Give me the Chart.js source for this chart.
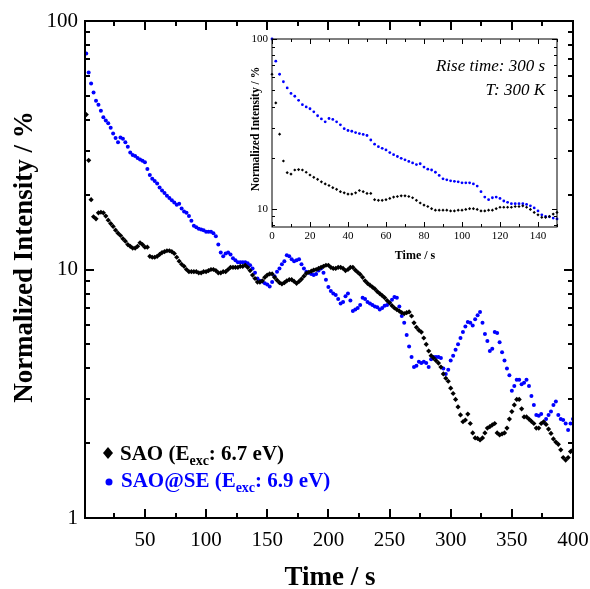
<!DOCTYPE html>
<html>
<head>
<meta charset="utf-8">
<script src="https://cdn.jsdelivr.net/npm/chart.js@4.4.1/dist/chart.umd.min.js"></script>
<style>
 html, body { margin: 0; padding: 0; background: #fff; }
 #wrap { position: relative; width: 590px; height: 589px; }
 #mainChart { position: absolute; left: 0; top: 0; }
 #insetChart { position: absolute; left: 230px; top: 25px; }
</style>
</head>
<body>
<div id="wrap">
 <canvas id="mainChart" width="590" height="589"></canvas>
 <canvas id="insetChart" width="340" height="245"></canvas>
</div>
<script>
// readings every 2 s, starting at t = 0
var timeStep = 2;

// SAO (E_exc: 6.7 eV), normalized intensity in %
var saoValues = [
 62, 42, 27.5, 19.1, 16.3, 16.0, 16.9, 17.0, 16.9, 16.4,
 15.8, 15.3, 14.9, 14.4, 14.0, 13.7, 13.3, 13.0, 12.6, 12.4,
 12.2, 12.2, 12.4, 12.8, 12.6, 12.3, 12.3, 11.3, 11.2, 11.2,
 11.3, 11.5, 11.7, 11.8, 11.9, 11.9, 11.8, 11.6, 11.2, 10.8,
 10.5, 10.3, 10.0, 9.8, 9.8, 9.8, 9.8, 9.7, 9.7, 9.8,
 9.8, 9.9, 10.0, 10.0, 9.9, 9.7, 9.7, 9.8, 9.8, 10.0,
 10.2, 10.2, 10.2, 10.2, 10.3, 10.3, 10.4, 10.2, 9.9, 9.5,
 9.2, 8.9, 8.9, 9.0, 9.3, 9.5, 9.6, 9.6, 9.3, 9.06,
 8.85, 8.75, 8.85, 9.0, 9.1, 9.1, 8.95, 8.8, 8.95, 9.15,
 9.4, 9.65, 9.75, 9.85, 9.95, 10.0, 10.1, 10.2, 10.3, 10.4,
 10.4, 10.2, 10.1, 10.1, 10.2, 10.2, 10.1, 9.9, 10.0, 10.2,
 10.2, 9.95, 9.75, 9.55, 9.3, 9.0, 8.8, 8.65, 8.5, 8.35,
 8.15, 8.0, 7.85, 7.7, 7.5, 7.35, 7.15, 7.0, 6.9, 6.8,
 6.7, 6.65, 6.7, 6.75, 6.5, 6.1, 5.85, 5.7, 5.6, 5.3,
 5.0, 4.7, 4.5, 4.4, 4.3, 4.2, 4.05, 3.8, 3.65, 3.55,
 3.33, 3.17, 3.0, 2.8, 2.6, 2.44, 2.48, 2.62, 2.4, 2.2,
 2.1, 2.09, 2.06, 2.1, 2.2, 2.3, 2.33, 2.37, 2.4, 2.2,
 2.16, 2.18, 2.2, 2.3, 2.5, 2.68, 2.85, 3.0, 3.0, 2.75,
 2.55, 2.55, 2.5, 2.45, 2.4, 2.3, 2.3, 2.4, 2.44, 2.38,
 2.28, 2.19, 2.08, 2.02, 1.98, 1.88, 1.75, 1.71, 1.75, 1.85,
 1.88
];

// SAO@SE (E_exc: 6.9 eV)
var saoSeValues = [
 100, 74, 62, 56, 51.5, 47.8, 46, 43.5, 41, 39.8,
 38.8, 37.2, 35.3, 33.8, 32.5, 34.0, 33.6, 32.5, 31.2, 29.6,
 28.9, 28.6, 28.1, 27.7, 27.4, 27.0, 25.4, 24.0, 23.2, 22.7,
 22.2, 21.4, 20.8, 20.3, 19.8, 19.4, 19.0, 18.6, 18.2, 18.4,
 17.6, 17.1, 16.9, 16.4, 15.7, 15.0, 14.8, 14.6, 14.5, 14.4,
 14.2, 14.2, 14.2, 14.0, 13.6, 12.6, 11.7, 11.3, 11.6, 11.7,
 11.5, 11.1, 10.9, 10.7, 10.7, 10.7, 10.7, 10.6, 10.4, 10.1,
 9.7, 9.2, 9.0, 8.95, 8.8, 8.7, 8.55, 8.9, 9.4, 9.8,
 10.1, 10.5, 10.8, 11.4, 11.3, 11.0, 10.8, 10.9, 11.0, 10.5,
 10.1, 9.8, 9.7, 9.6, 9.5, 9.6, 9.9, 10.1, 9.7, 9.1,
 8.5, 8.2, 8.0, 7.9, 7.6, 7.3, 7.4, 7.8, 8.0, 7.5,
 6.8, 6.9, 7.0, 7.2, 7.7, 7.6, 7.4, 7.3, 7.2, 7.1,
 7.05, 6.9, 7.0, 7.15, 7.2, 7.35, 7.55, 7.75, 7.7, 7.1,
 6.5, 6.1, 5.45, 4.9, 4.45, 4.05, 4.1, 4.25, 4.2, 4.25,
 4.2, 4.05, 4.35, 4.45, 4.45, 4.45, 4.4, 4.0, 3.8, 3.95,
 4.3, 4.5, 4.75, 5.0, 5.3, 5.6, 5.9, 6.15, 6.1, 5.95,
 6.3, 6.55, 6.75, 6.1, 5.5, 5.15, 4.7, 4.8, 5.6, 5.55,
 5.1, 4.65, 4.3, 4.0, 3.75, 3.25, 3.4, 3.6, 3.6, 3.45,
 3.5, 3.6, 3.4, 3.1, 2.85, 2.6, 2.58, 2.62, 2.42, 2.5,
 2.6, 2.68, 2.85, 2.94, 2.6, 2.5, 2.48, 2.4, 2.26, 2.4,
 2.5
];

var xTicks = [50, 100, 150, 200, 250, 300, 350, 400];
var xMinorTicks = [25, 75, 125, 175, 225, 275, 325, 375];
var yTicks = [1, 10, 100];
var yMinorTicks = [2, 3, 4, 5, 6, 7, 8, 9, 20, 30, 40, 50, 60, 70, 80, 90];

var insetXTicks = [0, 20, 40, 60, 80, 100, 120, 140];
var insetXMinorTicks = [10, 30, 50, 70, 90, 110, 130, 150];
var insetYTicks = [10, 100];
var insetYMinorTicks = [8, 9, 20, 30, 40, 50, 60, 70, 80, 90];

var serif = '"Liberation Serif", "Times New Roman", serif';

function toPoints(values, tMin, tMax) {
 var pts = [];
 values.forEach(function (v, i) {
  var t = i * timeStep;
  if (t >= tMin && t <= tMax) pts.push({ x: t, y: v });
 });
 return pts;
}

function fixTicks(list) {
 return function (scale) {
  scale.ticks = list.map(function (v) { return { value: v }; });
 };
}

// fixed axis size, and no extra room for labels hanging past the ends
function fitX(h) {
 return function (s) { s.height = h; s.paddingLeft = 0; s.paddingRight = 0; };
}
function fitY(w) {
 return function (s) { s.width = w; s.paddingTop = 0; s.paddingBottom = 0; };
}

// box + inward tick marks on all four sides
function frameTicks(opts) {
 return {
  id: "frameTicks",
  afterDatasetsDraw: function (chart) {
   var ctx = chart.ctx, a = chart.chartArea;
   var xs = chart.scales.x, ys = chart.scales.y;
   ctx.save();
   ctx.strokeStyle = "#000";
   ctx.lineWidth = opts.lineWidth;
   ctx.beginPath();
   function seg(x1, y1, x2, y2) { ctx.moveTo(x1, y1); ctx.lineTo(x2, y2); }
   function xMark(v, len) {
    var px = Math.round(xs.getPixelForValue(v)) + opts.shift;
    seg(px, a.bottom, px, a.bottom - len);
    seg(px, a.top, px, a.top + len);
   }
   function yMark(v, len) {
    var py = Math.round(ys.getPixelForValue(v)) + opts.shift;
    seg(a.left, py, a.left + len, py);
    seg(a.right, py, a.right - len, py);
   }
   opts.xMajor.forEach(function (v) { xMark(v, opts.major); });
   opts.xMinor.forEach(function (v) { xMark(v, opts.minor); });
   opts.yMajor.forEach(function (v) { yMark(v, opts.major); });
   opts.yMinor.forEach(function (v) { yMark(v, opts.minor); });
   ctx.stroke();
   ctx.strokeRect(a.left, a.top, a.right - a.left, a.bottom - a.top);
   ctx.restore();
  }
 };
}

// axis titles, legend and notes
var mainText = {
 id: "mainText",
 afterDraw: function (chart) {
  var ctx = chart.ctx;
  ctx.save();
  ctx.fillStyle = "#000";
  ctx.font = "bold 27px " + serif;
  ctx.textAlign = "center";
  ctx.textBaseline = "alphabetic";
  ctx.fillText("Time / s", 330, 585);
  ctx.save();
  ctx.translate(32, 257);
  ctx.rotate(-Math.PI / 2);
  ctx.fillText("Normalized Intensity / %", 0, 0);
  ctx.restore();

  // legend
  function entry(x, y, main, tail, color) {
   ctx.fillStyle = color;
   ctx.textAlign = "left";
   ctx.font = "bold 21px " + serif;
   ctx.fillText(main, x, y);
   x += ctx.measureText(main).width;
   ctx.font = "bold 14px " + serif;
   ctx.fillText("exc", x, y + 5);
   x += ctx.measureText("exc").width;
   ctx.font = "bold 21px " + serif;
   ctx.fillText(tail, x, y);
  }
  ctx.fillStyle = "#000";
  ctx.beginPath();
  ctx.moveTo(108, 447); ctx.lineTo(113, 453); ctx.lineTo(108, 459); ctx.lineTo(103, 453);
  ctx.closePath();
  ctx.fill();
  entry(120, 460, "SAO (E", ": 6.7 eV)", "#000");
  ctx.fillStyle = "#0000ff";
  ctx.beginPath();
  ctx.arc(109, 482, 3.5, 0, Math.PI * 2);
  ctx.fill();
  entry(121, 487, "SAO@SE (E", ": 6.9 eV)", "#0000ff");
  ctx.restore();
 }
};

var insetText = {
 id: "insetText",
 afterDraw: function (chart) {
  var ctx = chart.ctx;
  ctx.save();
  ctx.fillStyle = "#000";
  ctx.font = "italic 17px " + serif;
  ctx.textAlign = "right";
  ctx.fillText("Rise time: 300 s", 315, 46);
  ctx.fillText("T: 300 K", 315, 70);
  ctx.font = "bold 12px " + serif;
  ctx.textAlign = "center";
  ctx.fillText("Time / s", 185, 234);
  ctx.save();
  ctx.translate(29, 104);
  ctx.rotate(-Math.PI / 2);
  ctx.font = "bold 11.5px " + serif;
  ctx.fillText("Normalized Intensity / %", 0, 0);
  ctx.restore();
  ctx.restore();
 }
};

new Chart(document.getElementById("mainChart"), {
 type: "scatter",
 data: {
  datasets: [
   {
    label: "SAO",
    data: toPoints(saoValues, 1, 400),
    pointStyle: "rectRot",
    pointRadius: 2.6,
    backgroundColor: "#000",
    borderWidth: 0,
   },
   {
    label: "SAO@SE",
    data: toPoints(saoSeValues, 1, 400),
    pointStyle: "circle",
    pointRadius: 2,
    backgroundColor: "#0000ff",
    borderWidth: 0,
   },
  ],
 },
 options: {
  responsive: false,
  devicePixelRatio: 1,
  animation: false,
  layout: { padding: { left: 0, top: 21, right: 17, bottom: 0 } },
  plugins: { legend: { display: false }, tooltip: { enabled: false } },
  scales: {
   x: {
    type: "linear",
    min: 1,
    max: 400,
    afterBuildTicks: fixTicks(xTicks),
    afterFit: fitX(71),
    grid: { display: false, drawTicks: false },
    border: { display: false },
    ticks: {
     autoSkip: false, maxRotation: 0, padding: 10, color: "#000",
     font: { family: serif, size: 21 },
     callback: function (v) { return String(v); },
    },
   },
   y: {
    type: "logarithmic",
    min: 1,
    max: 100,
    afterBuildTicks: fixTicks(yTicks),
    afterFit: fitY(85),
    grid: { display: false, drawTicks: false },
    border: { display: false },
    ticks: {
     autoSkip: false, padding: 7, color: "#000",
     font: { family: serif, size: 21 },
     callback: function (v) { return String(v); },
    },
   },
  },
 },
 plugins: [
  frameTicks({ lineWidth: 2, shift: 0, major: 9, minor: 5,
   xMajor: xTicks, xMinor: xMinorTicks, yMajor: yTicks, yMinor: yMinorTicks }),
  mainText,
 ],
});

new Chart(document.getElementById("insetChart"), {
 type: "scatter",
 data: {
  datasets: [
   {
    label: "SAO",
    data: toPoints(saoValues, 0, 150),
    pointStyle: "rectRot",
    pointRadius: 1.6,
    backgroundColor: "#000",
    borderWidth: 0,
    clip: false,
   },
   {
    label: "SAO@SE",
    data: toPoints(saoSeValues, 0, 150),
    pointStyle: "circle",
    pointRadius: 1.4,
    backgroundColor: "#0000ff",
    borderWidth: 0,
    clip: false,
   },
  ],
 },
 options: {
  responsive: false,
  devicePixelRatio: 1,
  animation: false,
  layout: { padding: { left: 0, top: 14, right: 13, bottom: 0 } },
  plugins: { legend: { display: false }, tooltip: { enabled: false } },
  scales: {
   x: {
    type: "linear",
    min: 0,
    max: 150,
    afterBuildTicks: fixTicks(insetXTicks),
    afterFit: fitX(43),
    grid: { display: false, drawTicks: false },
    border: { display: false },
    ticks: {
     autoSkip: false, maxRotation: 0, padding: 3, color: "#000",
     font: { family: serif, size: 11 },
     callback: function (v) { return String(v); },
    },
   },
   y: {
    type: "logarithmic",
    min: 7.8,
    max: 100,
    afterBuildTicks: fixTicks(insetYTicks),
    afterFit: fitY(42),
    grid: { display: false, drawTicks: false },
    border: { display: false },
    ticks: {
     autoSkip: false, padding: 4, color: "#000",
     font: { family: serif, size: 11 },
     callback: function (v) { return String(v); },
    },
   },
  },
 },
 plugins: [
  frameTicks({ lineWidth: 1, shift: 0.5, major: 5, minor: 3,
   xMajor: insetXTicks, xMinor: insetXMinorTicks, yMajor: insetYTicks, yMinor: insetYMinorTicks }),
  insetText,
 ],
});
</script>
</body>
</html>
